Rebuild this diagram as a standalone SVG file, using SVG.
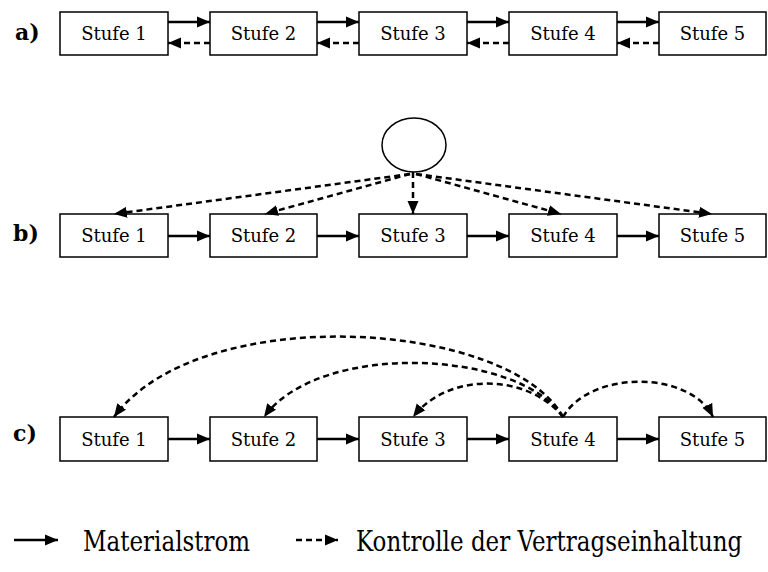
<svg xmlns="http://www.w3.org/2000/svg" width="768" height="572" viewBox="0 0 768 572">
  <style>
    text { font-family: "DejaVu Serif", "Liberation Serif", serif; fill: #000; }
    .box { fill: #fff; stroke: #000; stroke-width: 1.5; }
    .lbl { font-size: 18px; text-anchor: middle; }
    .row { font-size: 22px; font-weight: bold; }
    .leg { font-size: 23px; }
    .flow { stroke: #000; stroke-width: 2.5; fill: none; marker-end: url(#head); }
    .ctrl { stroke: #000; stroke-width: 2.5; fill: none; stroke-dasharray: 6 4; marker-end: url(#head); }
  </style>
  <defs>
    <marker id="head" markerUnits="userSpaceOnUse" markerWidth="14" markerHeight="12" refX="13" refY="6" orient="auto">
      <path d="M0,0.5 L13,6 L0,11.5 Z" fill="#000"/>
    </marker>
  </defs>

  <!-- row labels -->
  <text class="row" x="15" y="40">a)</text>
  <text class="row" x="13" y="241">b)</text>
  <text class="row" x="13" y="441">c)</text>

  <!-- row a -->
  <g id="a1"><rect class="box" x="60" y="12" width="108" height="43"/><text class="lbl" x="114" y="40">Stufe 1</text></g>
  <g id="a2"><rect class="box" x="210" y="12" width="107" height="43"/><text class="lbl" x="263.5" y="40">Stufe 2</text></g>
  <g id="a3"><rect class="box" x="359" y="12" width="108" height="43"/><text class="lbl" x="413" y="40">Stufe 3</text></g>
  <g id="a4"><rect class="box" x="509" y="12" width="108" height="43"/><text class="lbl" x="563" y="40">Stufe 4</text></g>
  <g id="a5"><rect class="box" x="659" y="12" width="107" height="43"/><text class="lbl" x="712.5" y="40">Stufe 5</text></g>

  <!-- row b -->
  <g id="b0"><ellipse class="box" cx="414" cy="145" rx="32" ry="27"/></g>
  <g id="b1"><rect class="box" x="60" y="214" width="108" height="43"/><text class="lbl" x="114" y="242">Stufe 1</text></g>
  <g id="b2"><rect class="box" x="210" y="214" width="107" height="43"/><text class="lbl" x="263.5" y="242">Stufe 2</text></g>
  <g id="b3"><rect class="box" x="359" y="214" width="108" height="43"/><text class="lbl" x="413" y="242">Stufe 3</text></g>
  <g id="b4"><rect class="box" x="509" y="214" width="108" height="43"/><text class="lbl" x="563" y="242">Stufe 4</text></g>
  <g id="b5"><rect class="box" x="659" y="214" width="107" height="43"/><text class="lbl" x="712.5" y="242">Stufe 5</text></g>

  <!-- row c -->
  <g id="c1"><rect class="box" x="60" y="417" width="108" height="44"/><text class="lbl" x="114" y="446">Stufe 1</text></g>
  <g id="c2"><rect class="box" x="210" y="417" width="107" height="44"/><text class="lbl" x="263.5" y="446">Stufe 2</text></g>
  <g id="c3"><rect class="box" x="359" y="417" width="108" height="44"/><text class="lbl" x="413" y="446">Stufe 3</text></g>
  <g id="c4"><rect class="box" x="509" y="417" width="108" height="44"/><text class="lbl" x="563" y="446">Stufe 4</text></g>
  <g id="c5"><rect class="box" x="659" y="417" width="107" height="44"/><text class="lbl" x="712.5" y="446">Stufe 5</text></g>

  <g id="connectors">
    <!-- row a: material forward, control backward -->
    <line class="flow" x1="168" y1="22" x2="210" y2="22"/>
    <line class="flow" x1="317" y1="22" x2="359" y2="22"/>
    <line class="flow" x1="467" y1="22" x2="509" y2="22"/>
    <line class="flow" x1="617" y1="22" x2="659" y2="22"/>
    <line class="ctrl" x1="210" y1="43" x2="168" y2="43"/>
    <line class="ctrl" x1="359" y1="43" x2="317" y2="43"/>
    <line class="ctrl" x1="509" y1="43" x2="467" y2="43"/>
    <line class="ctrl" x1="659" y1="43" x2="617" y2="43"/>

    <!-- row b -->
    <line class="flow" x1="168" y1="236" x2="210" y2="236"/>
    <line class="flow" x1="317" y1="236" x2="359" y2="236"/>
    <line class="flow" x1="467" y1="236" x2="509" y2="236"/>
    <line class="flow" x1="617" y1="236" x2="659" y2="236"/>
    <line class="ctrl" x1="410" y1="174" x2="114" y2="214"/>
    <line class="ctrl" x1="410" y1="174" x2="265" y2="214"/>
    <line class="ctrl" x1="413" y1="172" x2="413" y2="214"/>
    <line class="ctrl" x1="416" y1="174" x2="561" y2="214"/>
    <line class="ctrl" x1="416" y1="174" x2="712" y2="214"/>

    <!-- row c -->
    <line class="flow" x1="168" y1="439" x2="210" y2="439"/>
    <line class="flow" x1="317" y1="439" x2="359" y2="439"/>
    <line class="flow" x1="467" y1="439" x2="509" y2="439"/>
    <line class="flow" x1="617" y1="439" x2="659" y2="439"/>
    <path class="ctrl" d="M563,417 C510,320 200,300 114,417"/>
    <path class="ctrl" d="M563,417 C520,350 320,340 264,417"/>
    <path class="ctrl" d="M563,417 C530,375 450,370 413,417"/>
    <path class="ctrl" d="M563,417 C590,370 690,370 713,417"/>

    <!-- legend -->
    <line class="flow" x1="14" y1="540" x2="58" y2="540"/>
    <line class="ctrl" x1="296" y1="540" x2="338" y2="540"/>
  </g>

  <!-- legend texts, stretched vertically for a tall face -->
  <text class="leg" transform="translate(83,551) scale(1,1.2)" x="0" y="0">Materialstrom</text>
  <text class="leg" transform="translate(356,551) scale(1,1.2)" x="0" y="0">Kontrolle der Vertragseinhaltung</text>
</svg>
